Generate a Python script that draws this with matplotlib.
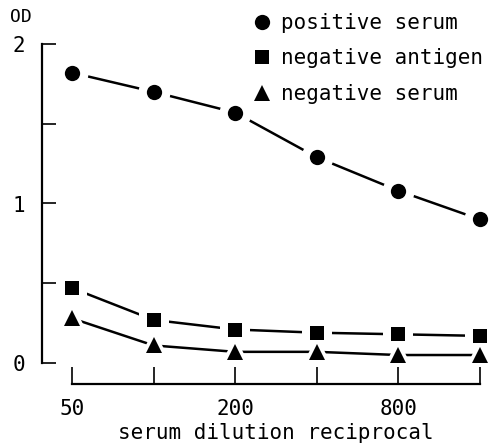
import numpy as np
import matplotlib
matplotlib.use('Agg')
import matplotlib.pyplot as plt
from matplotlib.lines import Line2D

# data
dilution = [50, 100, 200, 400, 800, 1600]
positive_serum = [1.82, 1.70, 1.57, 1.29, 1.08, 0.90]
negative_antigen = [0.47, 0.27, 0.21, 0.19, 0.18, 0.17]
negative_serum = [0.28, 0.11, 0.07, 0.07, 0.05, 0.05]

series_labels = ["positive serum", "negative antigen", "negative serum"]
x_ticklabels = {50: "50", 200: "200", 800: "800"}

plt.rcParams['font.family'] = ['DejaVu Sans Mono']

W, H = 492, 444
fig = plt.figure(figsize=(W / 100, H / 100), dpi=100)
ax = fig.add_axes([42 / W, (H - 363) / H, 448 / W, 319 / H])

styles = [('o', 11), ('s', 9.5), ('^', 11)]
handles = []
for ys, (m, ms), lab in zip([positive_serum, negative_antigen, negative_serum], styles, series_labels):
    ax.plot(dilution, ys, '-', color='black', lw=1.8, zorder=1)
    # white halo so the line stops short of each marker
    ax.plot(dilution, ys, m, color='white', ms=ms + 12, zorder=2, markeredgewidth=0)
    ax.plot(dilution, ys, m, color='black', ms=ms, zorder=3, markeredgewidth=0)
    handles.append(Line2D([], [], linestyle='none', marker=m, color='black',
                          ms=ms, markeredgewidth=0, label=lab))

ax.set_xscale('log', base=2)
ax.set_xlim(38.75, 1741.8)
ax.set_ylim(0, 2)

ax.spines['top'].set_visible(False)
ax.spines['right'].set_visible(False)
ax.spines['bottom'].set_position(('outward', 15))
ax.spines['bottom'].set_bounds(50, 1600)
ax.spines['left'].set_bounds(0, 2)
for s in ['left', 'bottom']:
    ax.spines[s].set_linewidth(1.6)

ax.set_xticks(dilution)
ax.set_xticklabels([x_ticklabels.get(d, "") for d in dilution])
ax.xaxis.set_minor_locator(matplotlib.ticker.NullLocator())
ax.set_yticks([0, 0.5, 1, 1.5, 2])
ax.set_yticklabels(["0", "", "1", "", "2"])

ax.tick_params(axis='x', direction='in', length=12, width=1.2, pad=11, labelsize=15)
ax.tick_params(axis='y', direction='in', length=10, width=1.2, pad=12, labelsize=15)

fig.text(21 / W, 1 - 17 / H, "OD", ha='center', va='center', fontsize=13)
fig.text(276 / W, 1 - 433 / H, "serum dilution reciprocal", ha='center', va='center', fontsize=15)

fig.legend(handles=handles, loc='upper left', bbox_to_anchor=(252 / W, 1 - 13 / H),
           bbox_transform=fig.transFigure, frameon=False, fontsize=15,
           handlelength=0.95, handletextpad=0.45, labelspacing=0.74,
           borderpad=0, borderaxespad=0)

fig.savefig("out.png", dpi=100)
